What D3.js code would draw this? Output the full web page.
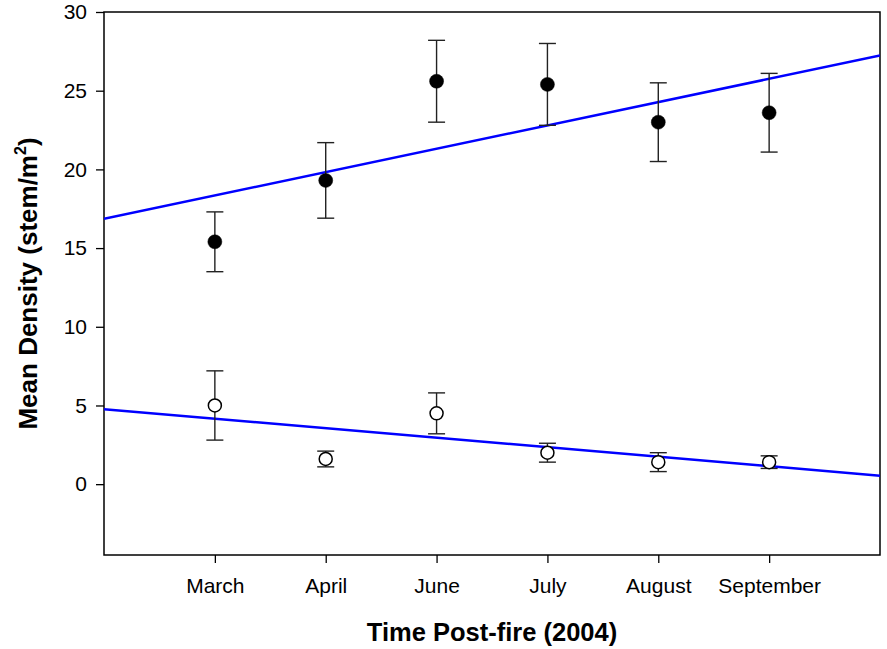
<!DOCTYPE html>
<html>
<head>
<meta charset="utf-8">
<script src="https://cdn.jsdelivr.net/npm/d3@7"></script>
<style>
  body { margin: 0; background: #fff; }
  text { font-family: "Liberation Sans", Arial, sans-serif; }
</style>
</head>
<body>
<div id="chart"></div>
<script>
var svgWidth = 887;
var svgHeight = 649;

// months sampled after the fire
var months = ["March", "April", "June", "July", "August", "September"];
var monthPos = [1, 2, 3, 4, 5, 6];

// filled circles
var filledMean = [15.4, 19.3, 25.6, 25.4, 23.0, 23.6];
var filledErr = [1.9, 2.4, 2.6, 2.6, 2.5, 2.5];

// open circles
var openMean = [5.0, 1.6, 4.5, 2.0, 1.4, 1.4];
var openErr = [2.2, 0.5, 1.3, 0.6, 0.6, 0.4];

var yTicks = [0, 5, 10, 15, 20, 25, 30];

var margin = { top: 12, right: 7, bottom: 94, left: 104 };
var width = svgWidth - margin.left - margin.right;
var height = svgHeight - margin.top - margin.bottom;

var svg = d3.select("#chart")
  .append("svg")
  .attr("width", svgWidth)
  .attr("height", svgHeight);

var chartGroup = svg.append("g")
  .attr("transform", `translate(${margin.left}, ${margin.top})`);

var xScale = d3.scaleLinear().domain([0, 7]).range([0, width]);
var yScale = d3.scaleLinear().domain([-4.5, 30]).range([height, 0]);

// least squares line through the means
function fitLine(xs, ys) {
  var mx = d3.mean(xs), my = d3.mean(ys);
  var sxy = d3.sum(xs, (x, i) => (x - mx) * (ys[i] - my));
  var sxx = d3.sum(xs, x => (x - mx) * (x - mx));
  var b = sxy / sxx;
  return { a: my - b * mx, b: b };
}

svg.append("defs").append("clipPath").attr("id", "plotClip")
  .append("rect").attr("width", width).attr("height", height);

// axes
var leftAxis = d3.axisLeft(yScale).tickValues(yTicks).tickSize(8).tickPadding(9);
var bottomAxis = d3.axisBottom(xScale).tickValues(monthPos)
  .tickFormat((d, i) => months[i]).tickSize(8).tickPadding(15);

var yAxisG = chartGroup.append("g").call(leftAxis);
var xAxisG = chartGroup.append("g")
  .attr("transform", `translate(0, ${height})`)
  .call(bottomAxis);

[yAxisG, xAxisG].forEach(function(g) {
  g.select(".domain").remove();
  g.selectAll(".tick line").attr("stroke", "#000").attr("stroke-width", 1.3);
  g.selectAll(".tick text").attr("font-size", 21).attr("fill", "#000");
});

// frame
chartGroup.append("rect")
  .attr("width", width)
  .attr("height", height)
  .attr("fill", "none")
  .attr("stroke", "#000")
  .attr("stroke-width", 1.5);

// regression lines
var lines = chartGroup.append("g").attr("clip-path", "url(#plotClip)");
[filledMean, openMean].forEach(function(ys) {
  var f = fitLine(monthPos, ys);
  lines.append("line")
    .attr("x1", xScale(0)).attr("y1", yScale(f.a))
    .attr("x2", xScale(7)).attr("y2", yScale(f.a + 7 * f.b))
    .attr("stroke", "#0000ff")
    .attr("stroke-width", 2.5);
});

// error bars and markers
function drawSeries(means, errs, filled) {
  var data = means.map((m, i) => ({ x: monthPos[i], m: m, e: errs[i] }));
  var g = chartGroup.append("g");
  var bars = g.selectAll(".err").data(data).enter().append("g")
    .attr("stroke", "#222").attr("stroke-width", 1.4);
  bars.append("line")
    .attr("x1", d => xScale(d.x)).attr("x2", d => xScale(d.x))
    .attr("y1", d => yScale(d.m - d.e)).attr("y2", d => yScale(d.m + d.e));
  bars.append("line")
    .attr("x1", d => xScale(d.x) - 8.5).attr("x2", d => xScale(d.x) + 8.5)
    .attr("y1", d => yScale(d.m + d.e)).attr("y2", d => yScale(d.m + d.e));
  bars.append("line")
    .attr("x1", d => xScale(d.x) - 8.5).attr("x2", d => xScale(d.x) + 8.5)
    .attr("y1", d => yScale(d.m - d.e)).attr("y2", d => yScale(d.m - d.e));
  g.selectAll("circle").data(data).enter().append("circle")
    .attr("cx", d => xScale(d.x))
    .attr("cy", d => yScale(d.m))
    .attr("r", filled ? 7 : 6.5)
    .attr("fill", filled ? "#000" : "#fff")
    .attr("stroke", "#000")
    .attr("stroke-width", filled ? 0.5 : 1.5);
}
drawSeries(filledMean, filledErr, true);
drawSeries(openMean, openErr, false);

// axis labels
var yLabel = chartGroup.append("text")
  .attr("transform", "rotate(-90)")
  .attr("x", -height / 2)
  .attr("y", 37 - margin.left)
  .attr("text-anchor", "middle")
  .attr("font-size", 26)
  .attr("font-weight", "bold");
yLabel.append("tspan").text("Mean Density (stem/m");
yLabel.append("tspan").attr("font-size", 16).attr("dy", -11).text("2");
yLabel.append("tspan").attr("dy", 11).text(")");

chartGroup.append("text")
  .attr("x", width / 2)
  .attr("y", height + 86)
  .attr("text-anchor", "middle")
  .attr("font-size", 25.5)
  .attr("font-weight", "bold")
  .text("Time Post-fire (2004)");
</script>
</body>
</html>
